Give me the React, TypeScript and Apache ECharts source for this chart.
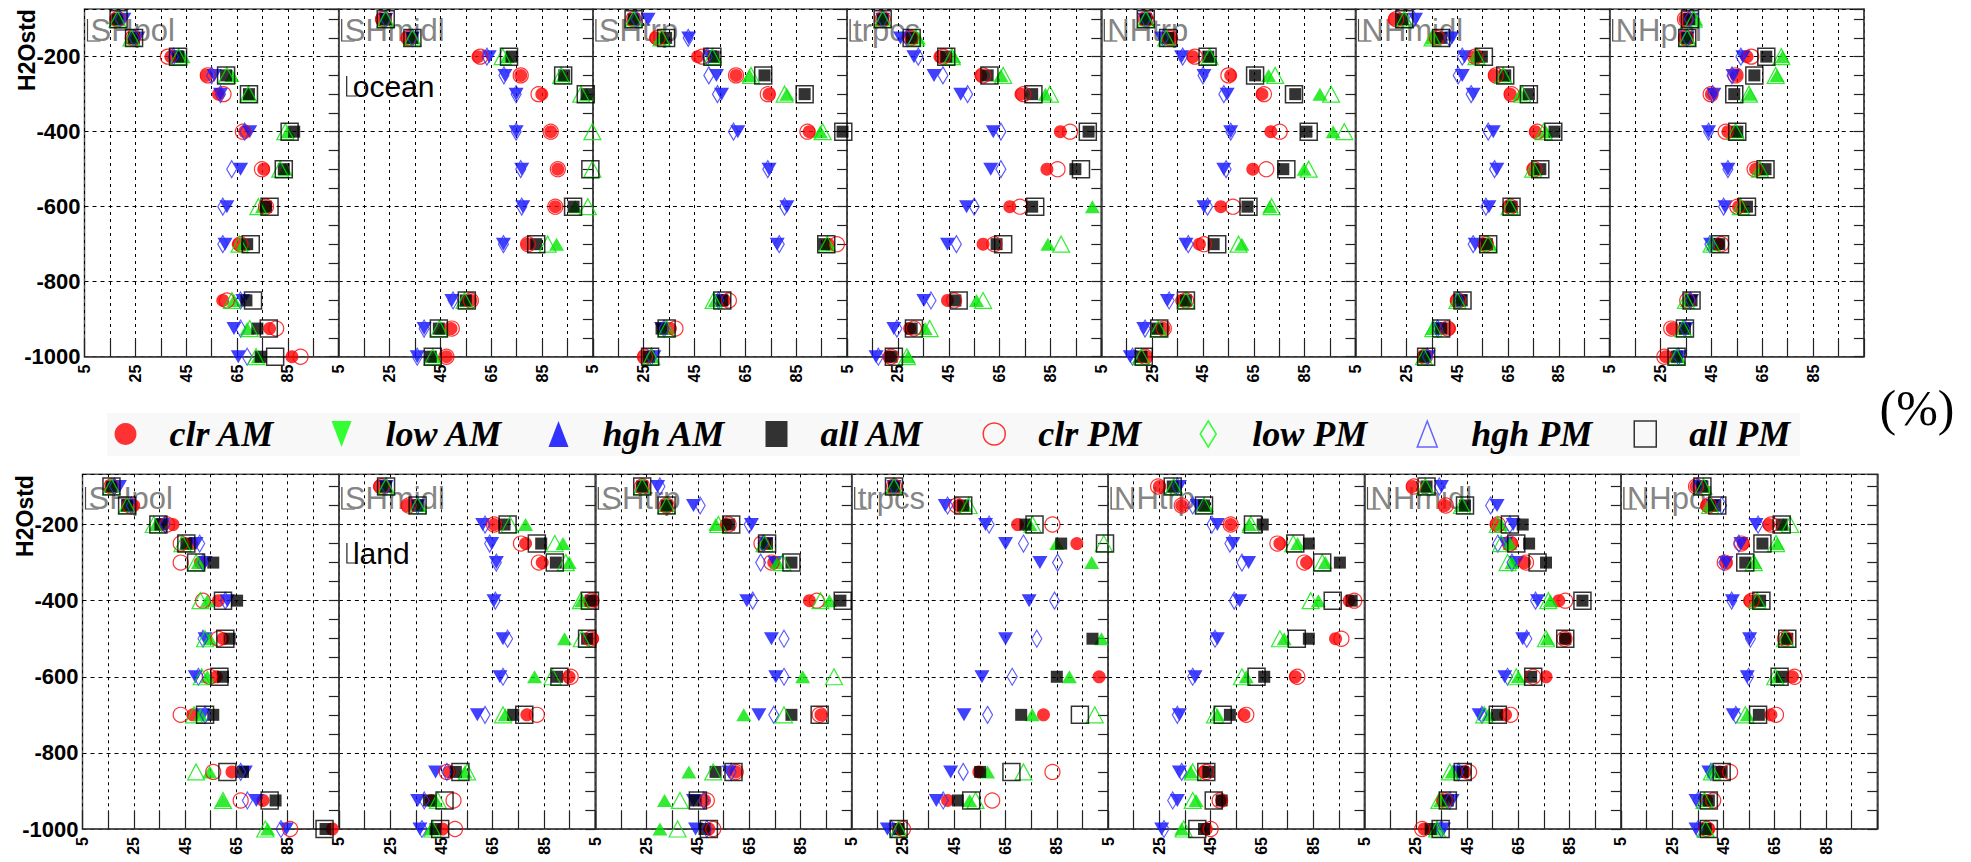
import React, { useEffect, useRef } from 'react';
import * as echarts from 'echarts';

// ---------------- data ----------------
const levels = [100, 150, 200, 250, 300, 400, 500, 600, 700, 850, 925, 1000];
const panelNames = ['SHpol', 'SHmidl', 'SHtrp', 'trpcs', 'NHtrp', 'NHmidl', 'NHpol'];
const seriesNames = ['clr AM', 'low AM', 'hgh AM', 'all AM', 'clr PM', 'low PM', 'hgh PM', 'all PM'];
const xTickLabels = [5, 25, 45, 65, 85];
const yTickLabels = [-200, -400, -600, -800, -1000];
const surfaceLabels = ['ocean', 'land'];

type V = number | null;

// ocean (top row): one inner array per panel, values per level
const oceanClrAM: V[][] = [
  [17.5, 24, 39, 53, 57.7, 68, 75.5, 76.4, 65.5, 59.4, 77.8, 86.6],
  [21.8, 31.9, 59.8, 76.6, 84.9, 88.4, 91.2, 90.2, 79.2, 57, 49.2, 47.4],
  [21, 29.6, 46.2, 61.3, 74.3, 90.1, null, null, 97.6, 56.8, 35.5, 25],
  [19, 30, 41.5, 57.6, 73.4, 88.9, 83.6, 69, 58.5, 44.5, 29.6, 21.7],
  [22.5, 32, 41, 55.9, 68.2, 71.7, 64.6, 52, 43.6, 36.6, 29.6, 22.5],
  [20.2, 36.6, 52.1, 59.7, 65.9, 75.7, 74.9, 65.3, 55.5, 44.6, 42, 31.9],
  [34.6, 34.6, 59, 54.8, 45, 51.5, 62.4, 55.7, 47.8, 36.3, 29.6, 27],
];
const oceanLowAM: V[][] = [
  [20.5, 26, 41, 56, 58.5, 70, 66.4, 61, 60.3, 67.3, 63.8, 65.5],
  [23.5, 34, 64.2, 70.4, 74.8, 74.8, 77, 77.4, 69.8, 49.5, 38.6, 35.9],
  [26.7, 42.7, 51, 53.6, 55.6, 62, 74.3, 81.3, 77.5, 55, 32, 29],
  [19, 26, 31.3, 39.2, 49.7, 62.5, 61.5, 52, 44.5, 35.2, 23.4, 16.4],
  [22, 28.7, 36.6, 45.4, 54.5, 55.9, 53.2, 45.4, 38.3, 31, 21.7, 16.4],
  [28.6, 42.9, 47.9, 47, 51.3, 59.2, 60.6, 57.5, 52.1, 46.2, 37.8, 33.6],
  [37.2, 35.5, 57.4, 53.5, 46, 43.9, 51.5, 50.3, 44.7, 37.2, 35, 32.6],
];
const oceanHghAM: V[][] = [
  [18, 24, 43.8, 63, 69.7, 85, 84, 75, 67.3, 63.8, 69, 73.4],
  [23.5, 34, 71.3, 93.3, 102.5, null, null, 98, 90.7, 55, 45.6, 43],
  [21, 32, 53, 66.6, 81.3, 94.5, null, null, 97.6, 53.2, 33.5, 28],
  [19, 33, 47, 65.5, 83, null, null, 101.5, 84, 55.9, 35.7, 29],
  [22.5, 30.5, 48, 70.8, 91, 96.2, 84.8, 71.3, 60.3, 37.5, 27.8, 20],
  [23.5, 35.3, 53, 63.6, 69.8, 79.9, 75.7, 66.4, 58, 45.4, 35.3, 31.9],
  [38.8, 36, 73, 70.8, 60.2, 55.2, 64.6, 57.4, 45.6, 35.5, 34.3, 32.1],
];
const oceanAllAM: V[][] = [
  [18, 24.5, 42, 60.7, 69.7, 87.5, 83.4, 76.4, 69, 68.7, 73, 74.3],
  [23.5, 34, 73, 93.7, 102.5, null, null, 97.4, 82.7, 55, 44.4, 41.2],
  [21, 33.8, 52.5, 72.5, 88.3, 103.2, null, null, 96, 55.9, 32, 27],
  [19, 30.4, 44, 60.3, 77.8, 100, 94.8, 77.8, 63.8, 47.6, 30.4, 22.5],
  [22.5, 31.3, 47.1, 65.5, 81.3, 85.7, 76.6, 62.5, 49.2, 38.3, 27, 20.8],
  [23.5, 38.7, 54.7, 63.9, 73.2, 83.3, 77.7, 66.4, 56.7, 46.8, 38.7, 32.3],
  [36.3, 35.5, 66.6, 61.9, 54, 55.2, 66.3, 59, 48.1, 37.2, 34.6, 31.3],
];
const oceanClrPM: V[][] = [
  [18, 24, 37.8, 53.5, 59.7, 67.3, 74.8, 76.4, 66.4, 61, 80.4, 90],
  [22.5, 32.5, 60.7, 76.6, 83.6, 88.4, 91.2, 90.2, 79.5, 57, 49.5, 47.4],
  [21, 30.5, 48, 61.3, 73.8, 89.4, null, null, 101, 58.5, 37.5, 25.5],
  [19, 30, 42.7, 58.5, 74.3, 92.7, 87.8, 73, 62.9, 47.1, 31.3, 22.2],
  [22.5, 32, 41.8, 55, 69, 75.2, 69.9, 56.8, 45.4, 38.3, 29.6, 22.2],
  [21, 37, 52.1, 60.2, 66.4, 76.5, 75.4, 65.9, 56.3, 45.4, 41.2, 32.3],
  [34.6, 35, 60.7, 54.5, 44.7, 50.6, 62, 55.2, 48.9, 35.5, 29.2, 26.5],
];
const oceanLowPM: V[][] = [
  [19, 24.5, 40, 55, 58.5, 68, 62.9, 59.4, 59.4, 66.4, 66.4, 69],
  [23.5, 34, 63.3, 70, 74.8, 74.8, 76.6, 77, 69.8, 50, 38.6, 35.9],
  [22, 42.5, 50, 50.6, 54, 60.3, 73.8, 80.4, 78.3, 54.5, 33, 28],
  [19, 28.6, 33, 42.7, 52.4, 65.5, 65.5, 55, 48, 38, 24.6, 17.3],
  [22.5, 29.5, 37, 45, 53.2, 55.9, 54.1, 46.8, 39.2, 31.7, 22.2, 17.3],
  [27.8, 42, 47, 45.4, 50.5, 57.2, 59.7, 56.3, 51.3, 45.7, 37.3, 33.3],
  [36.3, 35.5, 56.6, 53.1, 45.5, 43.9, 51.5, 49.8, 44.4, 36.8, 34.6, 32.1],
];
const oceanHghPM: V[][] = [
  [18, 23.5, 42, 61, 69.5, 84, 82, 73.4, 66, 63, 70, 72.5],
  [23.5, 34, 69.5, 92.5, 100.4, 104.8, 104.8, 103, 87.2, 54.5, 44.6, 42],
  [21, 32, 52, 67.2, 80.4, 95.4, null, null, 97.2, 52.5, 34, 28],
  [19, 32, 46.2, 66.4, 84.8, null, null, null, 89.2, 58.5, 37.5, 28.5],
  [22.5, 30.5, 47.6, 73.4, 95.4, 100.6, 86.6, 72, 59, 38.3, 27.4, 20.8],
  [24.2, 35.3, 52.6, 63.1, 70.6, 79, 74.9, 65.6, 57.2, 45.1, 35.6, 31.9],
  [38, 35.5, 72.5, 70.3, 59.8, 54.5, 64.1, 56.6, 45.1, 35, 33.8, 31.3],
];
const oceanAllPM: V[][] = [
  [18.4, 24.5, 41.8, 60.7, 69.7, 85.7, 83.4, 77.8, 70.4, 71.3, 77.5, 80],
  [23.5, 34, 72, 93.3, 102.2, null, 104, 97.2, 82.7, 55.4, 44.4, 42],
  [21, 33.8, 52, 72, 88.3, 103.5, null, null, 96.8, 55.9, 34, 27.5],
  [19, 30.4, 44, 61, 78.3, 99.7, 97, 79, 66.4, 48.9, 31.3, 23.4],
  [22.5, 31.3, 46.8, 65.5, 80.8, 86.6, 77.8, 62.9, 50.6, 38.3, 27.8, 21.7],
  [24.2, 38.7, 55.5, 63.9, 73.2, 82.8, 77.7, 66.4, 57.2, 47.1, 38.7, 32.8],
  [36.6, 35.5, 66.6, 61.9, 54, 55.2, 66.3, 59, 48.4, 37.2, 34.6, 31.3],
];

// land (bottom row)
const landClrAM: V[][] = [
  [16.3, 25, 40.3, 47.6, 51, 58, 59.8, 57.2, 48, 63.3, 75.4, 102.4],
  [20.8, 31.7, 65.5, 77.8, 84.3, 104, 104, 94.8, 78.3, 48, 41, 45.4],
  [23.3, 32.8, 56, 71, 74.6, 88.5, null, null, 93, 59.8, 47.6, 49.3],
  [21.5, 46.7, 69.7, 92.8, null, null, null, 101.5, 79.8, 54.6, 42.4, 23.3],
  [25, 33.7, 52.8, 72, 82.4, 99, 93.7, 78, 58, 42.4, 49.3, 43.3],
  [23.7, 36.3, 56.3, 62.5, 67.5, 80.8, 83.3, 75.8, 60, 44.2, 35.3, 28.3],
  [34.3, 38.4, 62.7, 52.7, 46, 55.2, 69.4, 71.9, 63.5, 43.5, 38.4, 39.3],
];
const landLowAM: V[][] = [
  [19.4, 23, 36.3, 49.3, 52.8, 61.5, 52.8, 49, 52, 68.5, 72.8, 84.5],
  [23.4, 35.7, 61.1, 64.6, 66.4, 65.5, 69, 67.8, 59, 42.7, 35.7, 36.6],
  [29.3, 43.3, 65.9, 71.5, 75.1, 64.1, 73.7, 75.4, 68.8, 57.2, 43.3, 44.1],
  [21.5, 41.5, 57.2, 65, 78.4, 74.2, 65, 55.8, 48.8, 43.6, 38, 18.9],
  [32.8, 39.8, 47.6, 53.7, 59.8, 56.3, 47.6, 38.9, 32.8, 32.8, 32, 25.9],
  [35, 56.7, 63, 60, 64.2, 72.5, 66.7, 59.7, 49.7, 42, 39.2, 35.8],
  [35.9, 41, 57.7, 51.8, 46, 48.5, 55.2, 54.3, 48.8, 39.3, 34.3, 34.3],
];
const landHghAM: V[][] = [
  [16.3, 22.4, 33.7, 45.5, 50.2, 53.7, 54.6, 53.7, 51, 54.6, 59.8, 77.2],
  [23.4, 36.5, 77.8, 92.4, 94.8, 99.7, 93, 81.3, 69.9, 54.1, 42.7, 41],
  [23.3, 32.8, 52, 71, 76, 96.3, null, 85.9, 62.9, 41.5, 32, 30.2],
  [21.5, 49.3, 74.5, 85, 98.6, null, 102.4, 89.9, 75.4, 58, 51, 23.3],
  [31, 43.3, 60, 78.9, 89.7, 87, 73.7, 58.9, 47.6, 37.2, 39.3, 33.7],
  [29.2, 43.3, 58.3, 61.7, 62.5, 77.5, 76.3, 65, 53.3, 39.2, 34.7, 33],
  [37.6, 40.1, 68.5, 66, 57.2, 58.5, 69.4, 66, 54.3, 41, 38.4, 38.4],
];
const landAllAM: V[][] = [
  [16.3, 22.4, 35.4, 45.5, 56, 65.3, 62.4, 59.8, 56, 67.6, 80.3, 99.8],
  [23.4, 35.7, 69.6, 83.9, 89.6, 103.2, 101.8, 90.1, 73, 50.6, 40.1, 42.7],
  [23.3, 32.8, 57.2, 72, 81.5, 100.6, null, null, 81.5, 51.9, 44.1, 47.6],
  [21.5, 48.5, 72.8, 86.7, null, null, 98.9, 85, 71.1, 55.1, 46.4, 23.3],
  [30.2, 42.4, 65.3, 83.3, 95.4, 100, 83.3, 65.9, 52.5, 44.1, 49.3, 42.4],
  [29.2, 44.2, 66.7, 69.2, 75.8, 90, 83.3, 70, 56.7, 43.3, 37.5, 30.8],
  [36.8, 41.8, 67.7, 60.2, 53.5, 59.3, 69.9, 67.7, 58.8, 44.3, 39.3, 38.1],
];
const landClrPM: V[][] = [
  [16.3, 23.5, 38, 43.3, 43.3, 52, 58, 54.6, 43.3, 56, 66.7, 86],
  [21.6, 32.2, 65.5, 76, 83, 103.5, 103.2, 95.4, 82.2, 47.1, 49.7, 50.3],
  [23.3, 32.8, 57, 69.8, 73.7, 91.4, null, null, 92.5, 59.8, 48.5, 51],
  [21.5, 46, 83.3, null, null, null, null, null, null, 83.3, 59.8, 25],
  [24.5, 33.7, 52.8, 71, 81.5, 101, 96, 78.8, 58.9, 43.3, 48.5, 45],
  [24.2, 36.7, 57, 61.7, 68, 83.3, 83, 70.8, 62, 45.8, 36.3, 27.5],
  [34.3, 39.2, 63.5, 52, 45.5, 56, 69, 72.7, 65.5, 47.6, 41, 38.4],
];
const landLowPM: V[][] = [
  [17.5, 24, 37.2, 50.7, 52, 60.7, 52, 50.2, 52.8, 66.7, 69.3, 82.4],
  [23.4, 35.7, 62, 63.8, 66.4, 66, 70.8, 69, 62, 47.1, 38.3, 37.4],
  [30.2, 45.9, 65, 70.5, 69.5, 66.4, 78.6, 78.6, 74.6, 58, 47.3, 48.5],
  [21.5, 42.4, 58.6, 72, 85.3, 84.1, 77.2, 67.6, 58, 48.5, 40.7, 20.5],
  [32, 38, 45.5, 52.5, 57.2, 54.2, 46.7, 38, 32, 33.7, 30.2, 26.8],
  [34.2, 54.2, 61.7, 57, 62.5, 71.7, 68.3, 60.8, 50.8, 41.7, 38.3, 35],
  [35, 44.3, 58.5, 51, 45.1, 48.2, 55.5, 54.8, 49.8, 40.1, 35.1, 35.1],
];
const landHghPM: V[][] = [
  [16.3, 22.4, 32.8, 44, 49.3, 51, 52.8, 51.5, 48.5, 49.3, 59.8, 76.3],
  [23.4, 35.7, 71.7, 89.2, 93.5, 99.4, 99.7, 88.3, 69, 55, 43.6, 41.5],
  [23.3, 32.8, 53, 71, 78, 92.8, null, 98.1, 78.6, 51, 38, 37.1],
  [21.5, 50.6, 75.5, 103.3, null, null, null, null, 99.8, 72, 53.3, 23.3],
  [30.6, 42.4, 60.7, 77.2, 88.5, 84, 72, 57.2, 46.7, 38, 38, 34.5],
  [28.7, 43, 57, 58.3, 60.8, 76.7, 75.8, 64.2, 51.7, 38.3, 34.2, 33.3],
  [37.2, 39.8, 71, 65.5, 56.8, 58.2, 69, 65.2, 53.5, 40.5, 37.6, 38],
];
const landAllPM: V[][] = [
  [16.3, 22.4, 34.6, 45.5, 49.3, 59.8, 60.7, 58.4, 52.8, 61.5, 78, 99.4],
  [23.4, 35.7, 70.8, 82.2, 89.2, 102.9, 101.8, 91, 77.3, 52.4, 46.2, 44.5],
  [23.3, 32.8, 58, 72, 81.5, 101.5, null, null, 92.5, 58.9, 45, 49.3],
  [21.5, 48.5, 76.3, 103.8, null, null, null, null, 94, 67.3, 51.6, 23.3],
  [30.2, 42.4, 61.5, 78, 88.5, 92.6, 78.6, 62.9, 49.7, 43.3, 46.2, 39.8],
  [29.2, 44.2, 61.7, 64.2, 72.5, 90, 83.3, 70.8, 57, 43.3, 37.5, 34.7],
  [36.8, 42.6, 67.7, 60.2, 53.5, 59.8, 69.9, 66.9, 58.5, 44.3, 39.3, 39.3],
];

const oceanSeries = [oceanClrAM, oceanLowAM, oceanHghAM, oceanAllAM, oceanClrPM, oceanLowPM, oceanHghPM, oceanAllPM];
const landSeries = [landClrAM, landLowAM, landHghAM, landAllAM, landClrPM, landLowPM, landHghPM, landAllPM];

// ---------------- layout / styles ----------------
const X_MIN = 5; // axis runs 5..105 (%), drawn as offset 0..100
const rowLayout = [
  { left0: 84.5, width: 254.2, top: 9, height: 347.7, yMax: -73, labelY: 30, titleX: 27, titleY: 50 },
  { left0: 82.5, width: 256.4, top: 474.3, height: 354.7, yMax: -68, labelY: 498, titleX: 25, titleY: 516 },
];
const surfaceLabelY = [86, 553];
const legendFirstX = 125.5;
const legendPitch = 217;

const RED = '#ff0000';
const BLUE = '#1010ff';
const GREEN = '#00e600';

const markerStyles: any[] = [
  { symbol: 'circle', symbolSize: 13, itemStyle: { color: RED } },
  { symbol: 'triangle', symbolRotate: 180, symbolSize: [15, 13], itemStyle: { color: BLUE } },
  { symbol: 'triangle', symbolSize: [15, 13], itemStyle: { color: GREEN } },
  { symbol: 'rect', symbolSize: 12, itemStyle: { color: '#000' } },
  { symbol: 'circle', symbolSize: 15, itemStyle: { color: 'rgba(0,0,0,0)', borderColor: RED, borderWidth: 1.2 } },
  { symbol: 'diamond', symbolSize: [10, 17], itemStyle: { color: 'rgba(0,0,0,0)', borderColor: '#3030ff', borderWidth: 1.2 } },
  { symbol: 'triangle', symbolSize: [17, 16], itemStyle: { color: 'rgba(0,0,0,0)', borderColor: GREEN, borderWidth: 1.2 } },
  { symbol: 'rect', symbolSize: 17, itemStyle: { color: 'rgba(0,0,0,0)', borderColor: '#000', borderWidth: 1.5 } },
];

const legendIcons: any[] = [
  { icon: 'circle', itemStyle: { color: RED } },
  { icon: 'path://M0,0L20,0L10,26Z', itemStyle: { color: '#00ff00' } },
  { icon: 'path://M10,0L20,26L0,26Z', itemStyle: { color: '#0000ff' } },
  { icon: 'rect', itemStyle: { color: '#000' } },
  { icon: 'circle', itemStyle: { color: 'rgba(0,0,0,0)', borderColor: RED, borderWidth: 1.5 } },
  { icon: 'path://M8,0L16,13L8,26L0,13Z', itemStyle: { color: 'rgba(0,0,0,0)', borderColor: '#00ff00', borderWidth: 1.5 } },
  { icon: 'path://M10,0L20,26L0,26Z', itemStyle: { color: 'rgba(0,0,0,0)', borderColor: '#4040ff', borderWidth: 1.5 } },
  { icon: 'rect', itemStyle: { color: 'rgba(0,0,0,0)', borderColor: '#000', borderWidth: 1.5 } },
];

function buildOption() {
  const grids: any[] = [];
  const xAxes: any[] = [];
  const yAxes: any[] = [];
  const series: any[] = [];
  const graphics: any[] = [];
  const rows = [oceanSeries, landSeries];

  // legend background band
  graphics.push({
    type: 'rect', silent: true, z: -1,
    shape: { x: 107, y: 413, width: 1693, height: 43 },
    style: { fill: '#f8f8f8' },
  });

  rows.forEach((rowData, r) => {
    const L = rowLayout[r];
    panelNames.forEach((pn, p) => {
      const g = r * panelNames.length + p;
      const left = L.left0 + p * L.width;
      grids.push({
        left, top: L.top, width: L.width, height: L.height,
        show: true, borderColor: '#555', borderWidth: 1.5, backgroundColor: 'rgba(0,0,0,0)',
      });
      xAxes.push({
        gridIndex: g, type: 'value', min: 0, max: 100, interval: 10,
        axisLine: { show: true, onZero: false, lineStyle: { color: '#444', width: 1.5 } },
        axisTick: { show: true, inside: true, length: 18, lineStyle: { color: '#222', width: 1.2 } },
        splitLine: { show: true, lineStyle: { color: '#000', width: 1, type: [3, 4] } },
        axisLabel: {
          rotate: 90, margin: 8, fontSize: 16, fontWeight: 'bold', color: '#000',
          fontFamily: 'Liberation Sans',
          formatter: (v: number) => {
            const pct = Math.round(v + X_MIN);
            return xTickLabels.indexOf(pct) >= 0 ? String(pct) : '';
          },
        },
      });
      yAxes.push({
        gridIndex: g, type: 'value', min: -1000, max: L.yMax, interval: 200,
        axisLine: { show: false }, axisTick: { show: false },
        splitLine: { show: true, lineStyle: { color: '#000', width: 1, type: [4, 4] } },
        axisLabel: {
          show: p === 0, margin: 4, fontSize: 22, fontWeight: 'bold', color: '#000',
          fontFamily: 'Liberation Sans',
          formatter: (v: number) => (yTickLabels.indexOf(v) >= 0 ? String(v) : ''),
        },
      });
      yAxes.push({
        gridIndex: g, type: 'value', min: -1000, max: L.yMax, interval: 50,
        axisLine: { show: true, onZero: false, lineStyle: { color: '#444', width: 1.5 } },
        axisTick: { show: true, inside: true, length: 10, lineStyle: { color: '#222', width: 1.2 } },
        splitLine: { show: false }, axisLabel: { show: false },
      });
      seriesNames.forEach((sn, s) => {
        const vals = rowData[s][p];
        const data: number[][] = [];
        levels.forEach((lev, i) => {
          const v = vals[i];
          if (v !== null && v !== undefined) data.push([v - X_MIN, -lev]);
        });
        series.push({
          type: 'scatter', name: sn, xAxisIndex: g, yAxisIndex: 2 * g, data,
          clip: true, silent: true, ...markerStyles[s],
        });
      });
      // panel label with bracket
      graphics.push({
        type: 'polyline', silent: true,
        shape: { points: [[left + 3, L.labelY - 11], [left + 3, L.labelY + 11], [left + 16, L.labelY + 11]] },
        style: { stroke: '#444', lineWidth: 1.2, fill: null },
      });
      graphics.push({
        type: 'text', silent: true, x: left + 6, y: L.labelY,
        style: { text: pn, fill: '#858585', fontSize: 31, fontFamily: 'Liberation Sans', textVerticalAlign: 'middle' },
      });
      if (p === 1) {
        graphics.push({
          type: 'polyline', silent: true,
          shape: { points: [[left + 8, surfaceLabelY[r] - 10], [left + 8, surfaceLabelY[r] + 10], [left + 18, surfaceLabelY[r] + 10]] },
          style: { stroke: '#222', lineWidth: 1.2, fill: null },
        });
        graphics.push({
          type: 'text', silent: true, x: left + 14, y: surfaceLabelY[r],
          style: { text: surfaceLabels[r], fill: '#000', fontSize: 30, fontFamily: 'Liberation Sans', textVerticalAlign: 'middle' },
        });
      }
    });
    graphics.push({
      type: 'text', silent: true, x: L.titleX, y: L.titleY, rotation: Math.PI / 2,
      style: {
        text: 'H2Ostd', fill: '#000', fontSize: 23, fontWeight: 'bold', fontFamily: 'Liberation Sans',
        textAlign: 'center', textVerticalAlign: 'middle',
      },
    });
  });

  graphics.push({
    type: 'text', silent: true, x: 1917, y: 408,
    style: { text: '(%)', fill: '#000', fontSize: 50, fontFamily: 'Liberation Serif', textAlign: 'center', textVerticalAlign: 'middle' },
  });

  const legends = seriesNames.map((n, i) => ({
    left: legendFirstX + i * legendPitch - 11 - 2, top: 414, orient: 'horizontal',
    itemWidth: 22, itemHeight: 26, padding: 2,
    selectedMode: false,
    data: [{ name: n, ...legendIcons[i] }],
    formatter: (nm: string) => `{p|}{t|${nm}}`,
    textStyle: {
      rich: {
        p: { width: 28 },
        t: { fontFamily: 'Liberation Serif', fontStyle: 'italic', fontWeight: 'bold', fontSize: 36, color: '#000' },
      },
    },
  }));

  return {
    animation: false,
    backgroundColor: '#fff',
    textStyle: { fontFamily: 'Liberation Sans' },
    grid: grids,
    xAxis: xAxes,
    yAxis: yAxes,
    series,
    legend: legends,
    graphic: graphics,
  };
}

export default function App() {
  const ref = useRef<HTMLDivElement>(null);
  useEffect(() => {
    if (!ref.current) return;
    const chart = echarts.init(ref.current, null, { renderer: 'svg' });
    chart.setOption(buildOption() as any);
    return () => chart.dispose();
  }, []);
  return (
    <div
      ref={ref}
      style={{ position: 'absolute', left: 0, top: 0, width: 1971, height: 862, background: '#fff' }}
    />
  );
}
